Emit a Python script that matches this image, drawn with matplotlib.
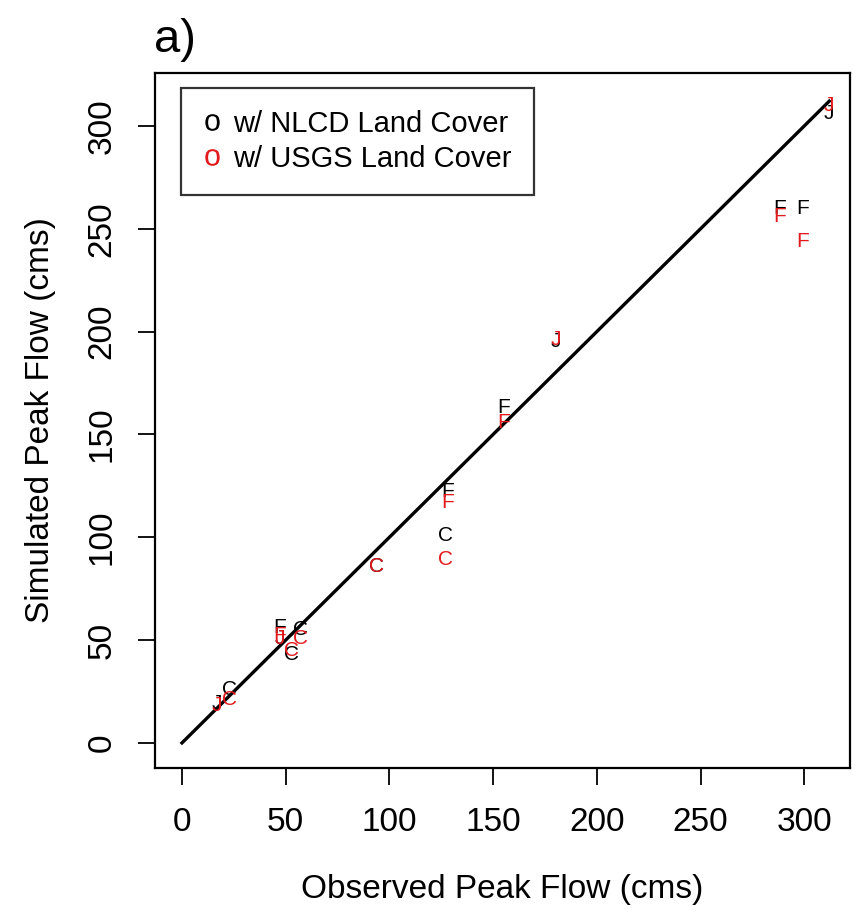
import matplotlib
matplotlib.use("Agg")
import matplotlib.pyplot as plt
from matplotlib.lines import Line2D

plt.rcParams['font.family'] = ['Liberation Sans', 'DejaVu Sans']

# Peak flows (cms): observed vs simulated with two land-cover datasets
labels = ['J', 'F', 'F', 'J', 'F', 'F', 'C', 'C', 'F', 'J', 'C', 'C', 'C', 'J']
observed = [312, 288, 299, 180, 155, 128, 127, 94, 47, 47, 57, 53, 23, 17]
sim_nlcd = [306, 260, 260, 195, 163, 122, 101, 86, 56, 51, 55, 43, 26, 19]
sim_usgs = [310, 256, 244, 196, 156, 117, 89, 86, 52, 51, 51, 45, 21, 18]

legend_labels = ['w/ NLCD Land Cover', 'w/ USGS Land Cover']
colors = ['black', '#e31a1c']
ticks = [0, 50, 100, 150, 200, 250, 300]

fig = plt.figure(figsize=(8.65, 9.15), dpi=100)
ax = fig.add_axes([155 / 865, 147 / 915, 695 / 865, 695 / 915])

# 1:1 line
top = max(max(sim_usgs), max(sim_nlcd), max(observed))
ax.plot([0, top], [0, top], color='black', linewidth=2.4, zorder=1)

for x, y, lab in zip(observed, sim_nlcd, labels):
    ax.text(x, y, lab, color=colors[0], fontsize=15, ha='center', va='center', zorder=2)
for x, y, lab in zip(observed, sim_usgs, labels):
    ax.text(x, y, lab, color=colors[1], fontsize=15, ha='center', va='center', zorder=3)

ax.set_xlim(-13, 322)
ax.set_ylim(-12.2, 325.7)
ax.set_xticks(ticks)
ax.set_yticks(ticks)
ax.tick_params(axis='both', direction='out', length=12, width=1.3, labelsize=24, pad=16)
ax.tick_params(axis='y', pad=15)
for lab in ax.get_yticklabels():
    lab.set_rotation(90)
    lab.set_va('center')
for sp in ax.spines.values():
    sp.set_linewidth(1.6)

ax.set_xlabel('Observed Peak Flow (cms)', fontsize=24, labelpad=26)
ax.set_ylabel('Simulated Peak Flow (cms)', fontsize=24, labelpad=22)

handles = [Line2D([], [], linestyle='none', marker=r'$\mathregular{o}$', markersize=12,
                  markeredgewidth=0, color=c) for c in colors]
leg = ax.legend(handles, legend_labels, loc='upper left',
                bbox_to_anchor=(26 / 695, 1 - 15 / 695), borderaxespad=0,
                fontsize=21, frameon=True, fancybox=False, handlelength=0.6,
                handletextpad=0.45, labelspacing=0.25, borderpad=0.75)
leg.get_frame().set_edgecolor('black')
leg.get_frame().set_linewidth(1.6)

fig.text(175 / 865, 1 - 40 / 915, 'a)', fontsize=34, ha='center', va='center')

fig.savefig('out.png', dpi=100)
